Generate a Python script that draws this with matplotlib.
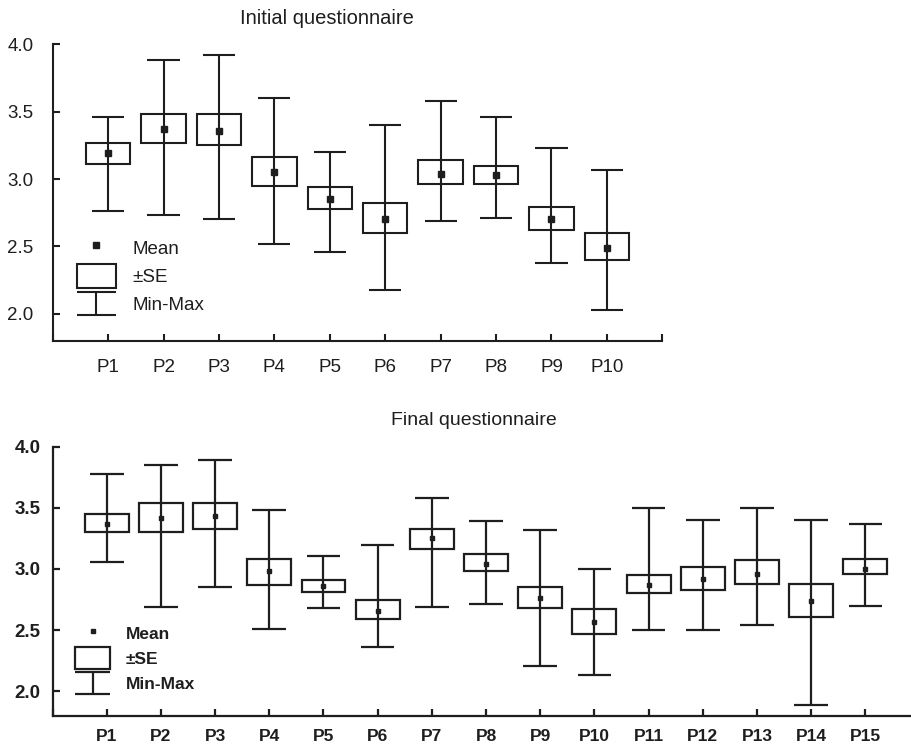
import matplotlib
matplotlib.use("Agg")
import matplotlib.pyplot as plt
from matplotlib.lines import Line2D
from matplotlib.patches import Rectangle
from matplotlib.legend_handler import HandlerBase

plt.rcParams['font.family'] = ['Liberation Sans', 'DejaVu Sans']

INK = '#1e1e1e'

# Initial questionnaire (P1..P10)
init_labels = ["P1", "P2", "P3", "P4", "P5", "P6", "P7", "P8", "P9", "P10"]
init_mean = [3.19, 3.37, 3.36, 3.05, 2.85, 2.70, 3.04, 3.03, 2.70, 2.49]
init_se_lo = [3.11, 3.27, 3.25, 2.95, 2.78, 2.60, 2.96, 2.96, 2.62, 2.40]
init_se_hi = [3.27, 3.48, 3.48, 3.16, 2.94, 2.82, 3.14, 3.10, 2.79, 2.60]
init_min = [2.76, 2.73, 2.70, 2.52, 2.46, 2.18, 2.69, 2.71, 2.38, 2.03]
init_max = [3.46, 3.88, 3.92, 3.60, 3.20, 3.40, 3.58, 3.46, 3.23, 3.07]

# Final questionnaire (P1..P15)
final_labels = ["P1", "P2", "P3", "P4", "P5", "P6", "P7", "P8", "P9", "P10",
                "P11", "P12", "P13", "P14", "P15"]
final_mean = [3.37, 3.42, 3.43, 2.98, 2.86, 2.66, 3.25, 3.04, 2.76, 2.57,
              2.87, 2.92, 2.96, 2.74, 3.00]
final_se_lo = [3.30, 3.30, 3.33, 2.87, 2.81, 2.59, 3.16, 2.98, 2.68, 2.47,
               2.80, 2.83, 2.88, 2.61, 2.96]
final_se_hi = [3.45, 3.54, 3.54, 3.08, 2.91, 2.75, 3.33, 3.12, 2.85, 2.67,
               2.95, 3.02, 3.07, 2.88, 3.08]
final_min = [3.06, 2.69, 2.85, 2.51, 2.68, 2.36, 2.69, 2.71, 2.21, 2.13,
             2.50, 2.50, 2.54, 1.89, 2.70]
final_max = [3.78, 3.85, 3.89, 3.48, 3.11, 3.20, 3.58, 3.39, 3.32, 3.00,
             3.50, 3.40, 3.50, 3.40, 3.37]


class MinMaxHandler(HandlerBase):
    # draws the I-shaped min-max glyph in the legend
    def __init__(self, lw):
        super().__init__()
        self.lw = lw

    def create_artists(self, legend, orig_handle, xdescent, ydescent,
                       width, height, fontsize, trans):
        x0, x1 = -xdescent, -xdescent + width
        y0, y1 = -ydescent, -ydescent + height
        xm = (x0 + x1) / 2
        segs = [([x0, x1], [y1, y1]), ([xm, xm], [y0, y1]), ([x0, x1], [y0, y0])]
        out = []
        for xs, ys in segs:
            ln = Line2D(xs, ys, color=INK, lw=self.lw, solid_capstyle='butt')
            ln.set_transform(trans)
            out.append(ln)
        return out


def draw_panel(ax, labels, mean, se_lo, se_hi, vmin, vmax, box_w, cap_hw,
               lw, ms, xmax, fs_x, fs_y, weight, padx, pady):
    x = list(range(1, len(labels) + 1))
    ax.vlines(x, vmin, vmax, color=INK, lw=lw)
    ax.hlines(vmin, [i - cap_hw for i in x], [i + cap_hw for i in x], color=INK, lw=lw)
    ax.hlines(vmax, [i - cap_hw for i in x], [i + cap_hw for i in x], color=INK, lw=lw)
    heights = [h - l for h, l in zip(se_hi, se_lo)]
    ax.bar(x, heights, bottom=se_lo, width=box_w, facecolor='none',
           edgecolor=INK, linewidth=lw, zorder=3)
    ax.plot(x, mean, ls='none', marker='s', ms=ms, color=INK, zorder=4)

    ax.set_xlim(0, xmax)
    ax.set_ylim(1.8, 4.0)
    ax.set_yticks([2.0, 2.5, 3.0, 3.5, 4.0])
    ax.set_yticklabels(["2.0", "2.5", "3.0", "3.5", "4.0"], fontsize=fs_y,
                       fontweight=weight, color=INK)
    ticks = list(range(0, int(xmax) + 1))
    ax.set_xticks(ticks)
    ax.set_xticklabels([""] + labels + [""] * (len(ticks) - len(labels) - 1),
                       fontsize=fs_x, fontweight=weight, color=INK)
    ax.tick_params(axis='both', direction='in', length=5, width=lw, color=INK)
    ax.tick_params(axis='x', pad=padx)
    ax.tick_params(axis='y', pad=pady)
    for s in ['top', 'right']:
        ax.spines[s].set_visible(False)
    for s in ['left', 'bottom']:
        ax.spines[s].set_color(INK)
        ax.spines[s].set_linewidth(lw)


def add_legend(ax, lw, ms, fs, weight, anchor, hh, hl, ls):
    mean_h = Line2D([], [], ls='none', marker='s', ms=ms, color=INK)
    se_h = Rectangle((0, 0), 1, 1, facecolor='none', edgecolor=INK, lw=lw)
    mm_h = Line2D([], [], color=INK)
    ax.legend([mean_h, se_h, mm_h], ["Mean", "\u00b1SE", "Min-Max"],
              handler_map={mm_h: MinMaxHandler(lw)},
              loc='upper left', bbox_to_anchor=anchor, frameon=False,
              borderpad=0, borderaxespad=0, handleheight=hh, handlelength=hl,
              handletextpad=0.9, labelspacing=ls,
              prop={'size': fs, 'weight': weight}, labelcolor=INK)


fig = plt.figure(figsize=(9.12, 7.5), dpi=100)

ax1 = fig.add_axes([0.0578, 0.5457, 0.6684, 0.3952])
draw_panel(ax1, init_labels, init_mean, init_se_lo, init_se_hi, init_min, init_max,
           box_w=0.80, cap_hw=0.29, lw=1.5, ms=5, xmax=11, fs_x=13.5, fs_y=13.5,
           weight='normal', padx=13, pady=14)
add_legend(ax1, 1.5, 4.5, 13.5, 'normal', (0.040, 0.352), 1.52, 2.06, 0.26)
fig.text(0.3586, 0.976, "Initial questionnaire", ha='center', va='center',
         fontsize=14.5, color=INK)

ax2 = fig.add_axes([0.0576, 0.0457, 0.9424, 0.3587])
draw_panel(ax2, final_labels, final_mean, final_se_lo, final_se_hi, final_min, final_max,
           box_w=0.81, cap_hw=0.31, lw=1.6, ms=3, xmax=15.86, fs_x=12.5, fs_y=13.5,
           weight='bold', padx=9.5, pady=8.5)
add_legend(ax2, 1.6, 3, 12.5, 'bold', (0.026, 0.347), 1.55, 2.05, 0.19)
fig.text(0.52, 0.4387, "Final questionnaire", ha='center', va='center',
         fontsize=14, color=INK)

fig.savefig("out.png", dpi=100)
